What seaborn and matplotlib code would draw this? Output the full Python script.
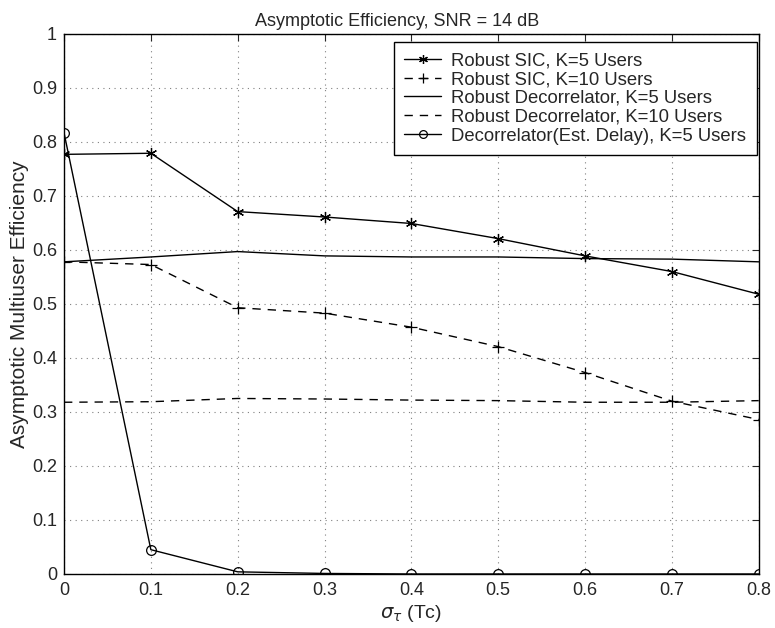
import matplotlib
matplotlib.use("Agg")
import matplotlib.pyplot as plt
import seaborn as sns
import pandas as pd
import numpy as np

sigma = [0, 0.1, 0.2, 0.3, 0.4, 0.5, 0.6, 0.7, 0.8]
sic_k5 = [0.777, 0.779, 0.671, 0.661, 0.649, 0.621, 0.589, 0.560, 0.518]
sic_k10 = [0.578, 0.573, 0.493, 0.483, 0.457, 0.421, 0.373, 0.320, 0.286]
dec_k5 = [0.578, 0.587, 0.597, 0.589, 0.587, 0.587, 0.584, 0.583, 0.578]
dec_k10 = [0.318, 0.319, 0.325, 0.324, 0.322, 0.321, 0.318, 0.318, 0.321]
est_k5 = [0.817, 0.045, 0.004, 0.001, 0.0, 0.0, 0.0, 0.0, 0.0]

labels = ["Robust SIC, K=5 Users", "Robust SIC, K=10 Users",
          "Robust Decorrelator, K=5 Users", "Robust Decorrelator, K=10 Users",
          "Decorrelator(Est. Delay), K=5 Users"]
series = [sic_k5, sic_k10, dec_k5, dec_k10, est_k5]
styles = [
    dict(ls="-", marker=(6, 2, 0), ms=8),
    dict(ls=(0, (6, 5)), marker="+", ms=9),
    dict(ls="-", marker=None),
    dict(ls=(0, (6, 5)), marker=None),
    dict(ls="-", marker="o", ms=7),
]

sns.set_style("white")
plt.rcParams["font.family"] = ["Liberation Sans", "DejaVu Sans"]

fig = plt.figure(figsize=(7.75, 6.28), dpi=100)
ax = fig.add_axes([0.0826, 0.086, 0.8964, 0.860])

for lab, vals, st in zip(labels, series, styles):
    df = pd.DataFrame({"x": sigma, "y": vals})
    kw = dict(color="black", lw=1.0, linestyle=st["ls"])
    if st["marker"] is not None:
        kw.update(marker=st["marker"], markersize=st["ms"], markerfacecolor="none",
                  markeredgecolor="black", markeredgewidth=0.9)
    sns.lineplot(data=df, x="x", y="y", ax=ax, label=lab, **kw)

ax.set_xlim(0, 0.8)
ax.set_ylim(0, 1)
ax.set_xticks(np.arange(0, 0.81, 0.1))
ax.set_xticklabels(["0", "0.1", "0.2", "0.3", "0.4", "0.5", "0.6", "0.7", "0.8"])
ax.set_yticks(np.arange(0, 1.01, 0.1))
ax.set_yticklabels(["0", "0.1", "0.2", "0.3", "0.4", "0.5", "0.6", "0.7", "0.8", "0.9", "1"])
ax.tick_params(direction="in", length=5, labelsize=13, top=True, right=True,
               width=0.8)
ax.tick_params(axis="x", pad=6)
ax.tick_params(axis="y", pad=5)
ax.grid(True, linestyle=(0, (1, 4)), color="gray", lw=0.8)
for s in ax.spines.values():
    s.set_color("black")
    s.set_linewidth(1.0)

ax.set_title("Asymptotic Efficiency, SNR = 14 dB", fontsize=13, pad=6, x=0.48)
ax.set_xlabel(r"$\sigma_\tau$ (Tc)", fontsize=14, labelpad=3)
ax.set_ylabel("Asymptotic Multiuser Efficiency", fontsize=15, labelpad=2)

leg = ax.legend(loc="upper right", bbox_to_anchor=(0.997, 0.985), borderaxespad=0,
                fontsize=13.3, frameon=True, fancybox=False,
                edgecolor="black", framealpha=1, borderpad=0.55, labelspacing=0.1,
                handlelength=2.0, handletextpad=0.55, markerscale=0.8)
leg.get_frame().set_linewidth(1.0)

fig.savefig("out.png", dpi=100)
